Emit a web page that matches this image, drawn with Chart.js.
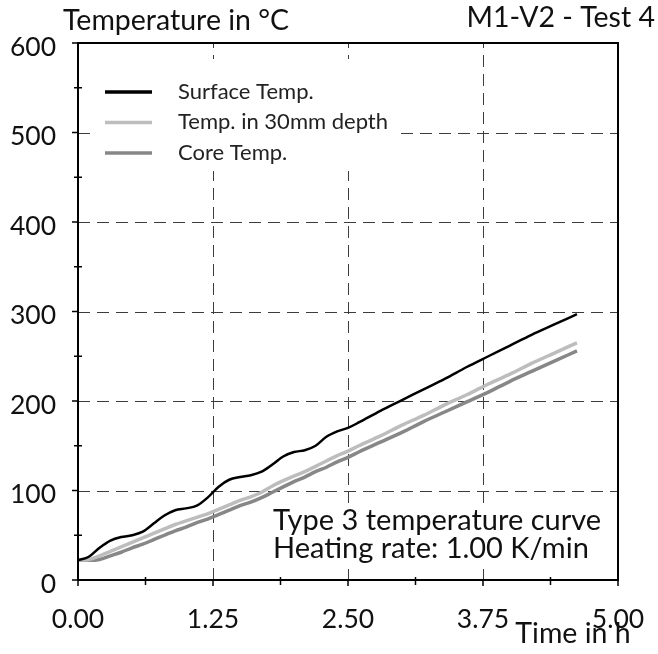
<!DOCTYPE html>
<html>
<head>
<meta charset="utf-8">
<script src="https://cdn.jsdelivr.net/npm/chart.js@4.4.1/dist/chart.umd.min.js"></script>
<style>
  html, body { margin: 0; padding: 0; background: #fff; }
</style>
</head>
<body>
<canvas id="tempChart" width="658" height="654"></canvas>
<script>
// Zeit in h
const timeH = [0, 0.1, 0.2, 0.3, 0.4, 0.5, 0.6, 0.7, 0.8, 0.9, 1.0, 1.1, 1.2, 1.3, 1.4, 1.5, 1.6, 1.7, 1.8, 1.9,
               2.0, 2.1, 2.2, 2.3, 2.4, 2.5, 2.6, 2.8, 3.0, 3.2, 3.4, 3.6, 3.8, 4.0, 4.2, 4.4, 4.62];
// Temperaturen in °C
const surfaceTemp = [22, 26, 36, 44, 48, 50, 54, 63, 72, 78, 80, 83, 92, 104, 112, 115, 117, 121, 129, 138,
                     143, 145, 150, 160, 166, 170, 176, 189, 201, 213, 225, 238, 250, 262, 274, 285, 297];
const depth30Temp = [22, 23, 27, 32, 37, 42, 47, 52, 57, 62, 66, 70, 74, 79, 84, 89, 93, 98, 105, 111,
                     116, 121, 127, 133, 139, 144, 150, 161, 173, 184, 196, 207, 219, 230, 242, 253, 265];
const coreTemp = [22, 22, 23, 27, 31, 36, 40, 45, 50, 55, 59, 64, 68, 73, 78, 83, 87, 92, 98, 104,
                  110, 115, 121, 126, 132, 137, 143, 154, 165, 177, 188, 199, 210, 222, 233, 244, 256];

const seriesNames = ['Surface Temp.', 'Temp. in 30mm depth', 'Core Temp.'];
const seriesColors = ['#000000', '#bdbdbd', '#878787'];
const xTicks = [0, 1.25, 2.5, 3.75, 5];
const yTicks = [0, 100, 200, 300, 400, 500, 600];
const noteLines = ['Type 3 temperature curve', 'Heating rate: 1.00 K/min'];

const FONT = 'Lato, "Open Sans", sans-serif';

const pts = vals => timeH.map((t, i) => ({ x: t, y: vals[i] }));

function line(ctx, x1, y1, x2, y2) {
  ctx.beginPath();
  ctx.moveTo(x1, y1);
  ctx.lineTo(x2, y2);
  ctx.stroke();
}

// Gitter, Rahmen, Legende und Texte selbst zeichnen
const framePlugin = {
  id: 'frame',
  beforeDatasetsDraw(chart) {
    const { ctx, chartArea: a, scales: { x, y } } = chart;
    ctx.save();
    ctx.strokeStyle = '#3c3c3c';
    ctx.lineWidth = 1;
    ctx.setLineDash([12, 7]);
    yTicks.slice(1, -1).forEach(v => {
      const py = Math.round(y.getPixelForValue(v)) + 0.5;
      line(ctx, a.left, py, a.right, py);
    });
    xTicks.slice(1, -1).forEach(v => {
      const px = Math.round(x.getPixelForValue(v)) + 0.5;
      line(ctx, px, a.bottom, px, a.top);
    });
    ctx.setLineDash([]);
    // weiße Flächen hinter Legende und Hinweis
    ctx.fillStyle = '#fff';
    ctx.fillRect(a.left + 15, a.top + 16, 308, 112);
    ctx.fillRect(a.left + 190, a.bottom - 77, 345, 66);
    ctx.restore();
  },
  afterDatasetsDraw(chart) {
    const { ctx, chartArea: a, scales: { x, y } } = chart;
    ctx.save();
    // Rahmen
    ctx.strokeStyle = '#000';
    ctx.lineWidth = 2;
    ctx.strokeRect(a.left, a.top, a.right - a.left, a.bottom - a.top);
    // Teilstriche
    ctx.lineWidth = 1.5;
    for (let v = 0; v <= 600; v += 50) {
      const py = y.getPixelForValue(v);
      if (v % 100 === 0) line(ctx, a.left - 6, py, a.left, py);
      else line(ctx, a.left - 4, py, a.left + 4, py);
    }
    for (let v = 0; v <= 5; v += 0.625) {
      const px = x.getPixelForValue(v);
      if (Math.abs(v / 1.25 - Math.round(v / 1.25)) < 1e-6) line(ctx, px, a.bottom, px, a.bottom + 6);
      else line(ctx, px, a.bottom - 3, px, a.bottom + 5);
    }
    // Legende
    ctx.font = '22px ' + FONT;
    ctx.textBaseline = 'alphabetic';
    ctx.fillStyle = '#222';
    chart.data.datasets.forEach((ds, i) => {
      const ly = a.top + 49 + i * 30.5;
      ctx.strokeStyle = ds.borderColor;
      ctx.lineWidth = 3.5;
      line(ctx, a.left + 27, ly, a.left + 74, ly);
      ctx.fillText(ds.label, a.left + 100, ly + 6.5);
    });
    // Hinweis
    ctx.font = '29px ' + FONT;
    ctx.fillStyle = '#111';
    noteLines.forEach((t, i) => ctx.fillText(t, a.left + 195, a.bottom - 50 + i * 28));
    ctx.restore();
  },
  afterDraw(chart) {
    const { ctx } = chart;
    ctx.save();
    ctx.font = '28.5px ' + FONT;
    ctx.fillStyle = '#111';
    ctx.textAlign = 'left';
    ctx.fillText('Temperature in °C', 63, 30);
    ctx.textAlign = 'right';
    ctx.fillText('M1-V2 - Test 4', 655, 27);
    ctx.textAlign = 'center';
    ctx.fillText('Time in h', 573, 643);
    ctx.restore();
  }
};

new Chart(document.getElementById('tempChart'), {
  type: 'line',
  data: {
    datasets: [
      { label: seriesNames[0], data: pts(surfaceTemp), borderColor: seriesColors[0], borderWidth: 2.5 },
      { label: seriesNames[1], data: pts(depth30Temp), borderColor: seriesColors[1], borderWidth: 3.5 },
      { label: seriesNames[2], data: pts(coreTemp), borderColor: seriesColors[2], borderWidth: 3.5 }
    ]
  },
  options: {
    responsive: false,
    animation: false,
    devicePixelRatio: 1,
    layout: { padding: { top: 43, right: 40, left: 0, bottom: 0 } },
    elements: {
      point: { radius: 0 },
      line: { cubicInterpolationMode: 'monotone', fill: false }
    },
    plugins: { legend: { display: false }, tooltip: { enabled: false } },
    scales: {
      x: {
        type: 'linear',
        min: 0,
        max: 5,
        afterFit: s => { s.height = 74; s.paddingLeft = 0; s.paddingRight = 0; },
        grid: { display: false, drawTicks: false },
        border: { display: false },
        ticks: { stepSize: 1.25, padding: 24, color: '#111', font: { family: FONT, size: 26.5 },
                 callback: v => v.toFixed(2), maxRotation: 0 }
      },
      y: {
        min: 0,
        max: 600,
        afterFit: s => { s.width = 78; s.paddingTop = 0; s.paddingBottom = 0; },
        grid: { display: false, drawTicks: false },
        border: { display: false },
        ticks: { stepSize: 100, padding: 22, labelOffset: 4, color: '#111', font: { family: FONT, size: 26.5 } }
      }
    }
  },
  plugins: [framePlugin]
});
</script>
</body>
</html>
